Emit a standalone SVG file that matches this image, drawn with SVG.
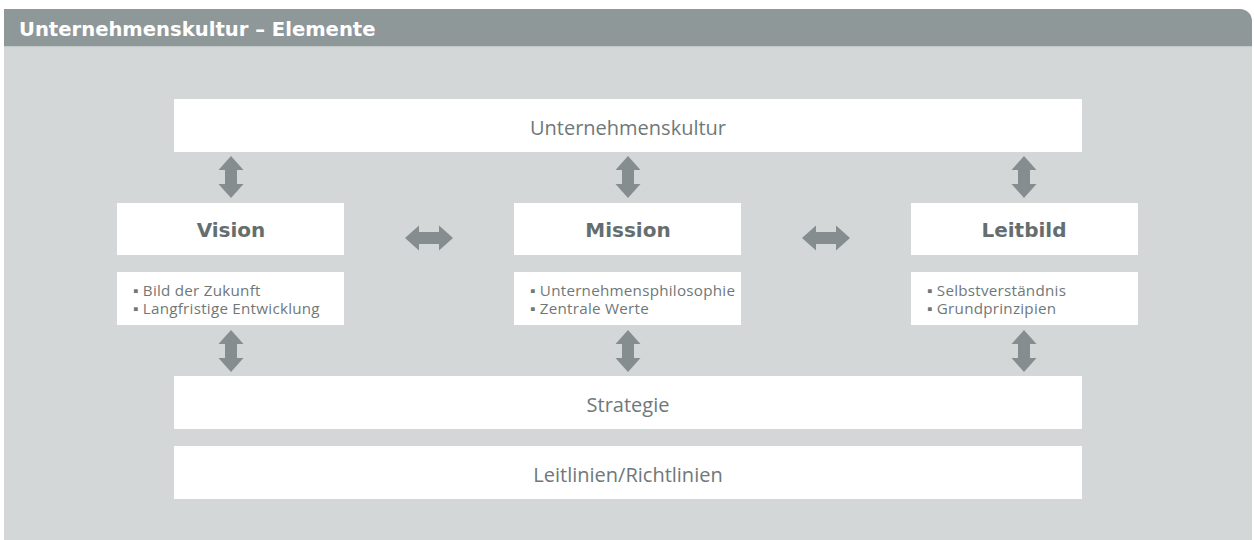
<svg xmlns="http://www.w3.org/2000/svg" xmlns:xlink="http://www.w3.org/1999/xlink" width="1254" height="540" viewBox="0 0 1254 540">
<style>
.box{fill:#ffffff}
.arr{fill:#858d8e}
.t{font-family:"Open Sans","Noto Sans","Liberation Sans",sans-serif;fill:#6f7879}
.big{font-size:20px;text-anchor:middle}
.head{font-family:"DejaVu Sans","Open Sans",sans-serif;font-size:20px;font-weight:bold;text-anchor:middle;fill:#656e6f}
.li{font-size:15.2px;letter-spacing:0.25px}
.title{font-family:"DejaVu Sans","Open Sans",sans-serif;font-size:19.6px;font-weight:bold;fill:#ffffff}
</style>
<defs>
<path id="va" d="M0,0 L12.5,14 L6,14 L6,28 L12.5,28 L0,42 L-12.5,28 L-6,28 L-6,14 L-12.5,14 Z"/>
<path id="ha" d="M0,0 L14,-12.5 L14,-6 L34,-6 L34,-12.5 L48,0 L34,12.5 L34,6 L14,6 L14,12.5 Z"/>
</defs>
<rect x="0" y="0" width="1254" height="540" fill="#ffffff"/>
<g id="frame">
<rect x="4" y="47" width="1248" height="493" fill="#d3d7d8"/>
<path d="M4,9 H1240 A12,12 0 0 1 1252,21 V47 H4 Z" fill="#8f9899"/>
<rect x="4" y="46" width="1248" height="1.2" fill="#c4c9ca"/>
<text class="title" x="19" y="36">Unternehmenskultur – Elemente</text>
</g>
<g id="n-kultur">
<rect class="box" x="174" y="99" width="908" height="53"/>
<text class="t big" x="628" y="135">Unternehmenskultur</text>
</g>
<g id="n-vision">
<rect class="box" x="117" y="203" width="227" height="52"/>
<text class="t head" x="231" y="237">Vision</text>
</g>
<g id="n-vision-list">
<rect class="box" x="117" y="272" width="227" height="53"/>
<text class="t li" x="133" y="296">▪ Bild der Zukunft</text>
<text class="t li" x="133" y="314">▪ Langfristige Entwicklung</text>
</g>
<g id="n-mission">
<rect class="box" x="514" y="203" width="227" height="52"/>
<text class="t head" x="628" y="237">Mission</text>
</g>
<g id="n-mission-list">
<rect class="box" x="514" y="272" width="227" height="53"/>
<text class="t li" x="530" y="296">▪ Unternehmensphilosophie</text>
<text class="t li" x="530" y="314">▪ Zentrale Werte</text>
</g>
<g id="n-leitbild">
<rect class="box" x="911" y="203" width="227" height="52"/>
<text class="t head" x="1024" y="237">Leitbild</text>
</g>
<g id="n-leitbild-list">
<rect class="box" x="911" y="272" width="227" height="53"/>
<text class="t li" x="927" y="296">▪ Selbstverständnis</text>
<text class="t li" x="927" y="314">▪ Grundprinzipien</text>
</g>
<g id="n-strategie">
<rect class="box" x="174" y="376" width="908" height="53"/>
<text class="t big" x="628" y="412">Strategie</text>
</g>
<g id="n-leitlinien">
<rect class="box" x="174" y="446" width="908" height="53"/>
<text class="t big" x="628" y="482">Leitlinien/Richtlinien</text>
</g>
<g id="connectors" class="arr">
<use xlink:href="#va" x="231" y="156"/>
<use xlink:href="#va" x="628" y="156"/>
<use xlink:href="#va" x="1024" y="156"/>
<use xlink:href="#va" x="231" y="330"/>
<use xlink:href="#va" x="628" y="330"/>
<use xlink:href="#va" x="1024" y="330"/>
<use xlink:href="#ha" x="405" y="238"/>
<use xlink:href="#ha" x="802" y="238"/>
</g>
</svg>
